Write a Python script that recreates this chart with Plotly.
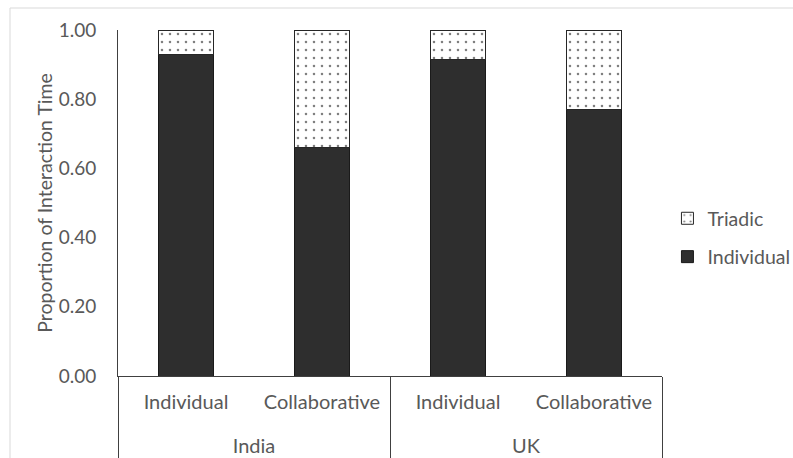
import plotly.graph_objects as go

countries = ["India", "India", "UK", "UK"]
conditions = ["Individual", "Collaborative", "Individual", "Collaborative"]
individual = [0.93, 0.66, 0.915, 0.77]
triadic = [0.07, 0.34, 0.085, 0.23]
y_ticks = [0, 0.2, 0.4, 0.6, 0.8, 1.0]

FONT = "Lato"
GRAY = "#595959"

# trailing empty line gives extra room between the two label rows
cond_labels = [c + "<br>&nbsp;" for c in conditions]

fig = go.Figure()
fig.add_trace(go.Bar(
    x=[countries, cond_labels], y=individual, name="Individual",
    legendgroup="ind", legendrank=2,
    marker=dict(color="#2e2e2e", line=dict(color="#1a1a1a", width=1)),
))
fig.add_trace(go.Bar(
    x=[countries, cond_labels], y=triadic, name="Triadic",
    legendgroup="tri", legendrank=1,
    marker=dict(color="white", line=dict(color="#262626", width=1),
                pattern=dict(shape=".", fgcolor="#000000", bgcolor="white",
                             size=8, solidity=0.08)),
))

fig.update_layout(
    width=793, height=458,
    margin=dict(l=118, r=131, t=30, b=82, autoexpand=False),
    barmode="stack", bargap=0.6,
    plot_bgcolor="white", paper_bgcolor="white",
    font=dict(family=FONT, color=GRAY, size=19),
    legend=dict(x=1.01, y=0.40, xanchor="left", yanchor="middle",
                traceorder="grouped", tracegroupgap=10,
                font=dict(size=19.5, color=GRAY), itemwidth=30),
    showlegend=True,
    shapes=[dict(type="rect", xref="paper", yref="paper",
                 x0=(10 - 118) / 544, x1=1.6, y0=-0.5, y1=(376 - 8) / 346,
                 line=dict(color="#d9d9d9", width=1), layer="below")],
)
fig.update_yaxes(range=[0, 1], tickvals=y_ticks, tickformat=".2f",
                 showgrid=False, showline=True, linecolor="#404040", linewidth=1,
                 zeroline=False, ticks="", ticklabelstandoff=17,
                 tickfont=dict(size=19, color=GRAY), automargin=False,
                 title=dict(text="Proportion of Interaction Time",
                            font=dict(size=19.5, color=GRAY), standoff=0))
fig.update_xaxes(showline=True, linecolor="#404040", linewidth=1,
                 showdividers=True, dividercolor="#404040", dividerwidth=1,
                 ticks="", ticklabelstandoff=8,
                 tickfont=dict(size=20, color=GRAY), automargin=False)

fig.write_html("out.html")
